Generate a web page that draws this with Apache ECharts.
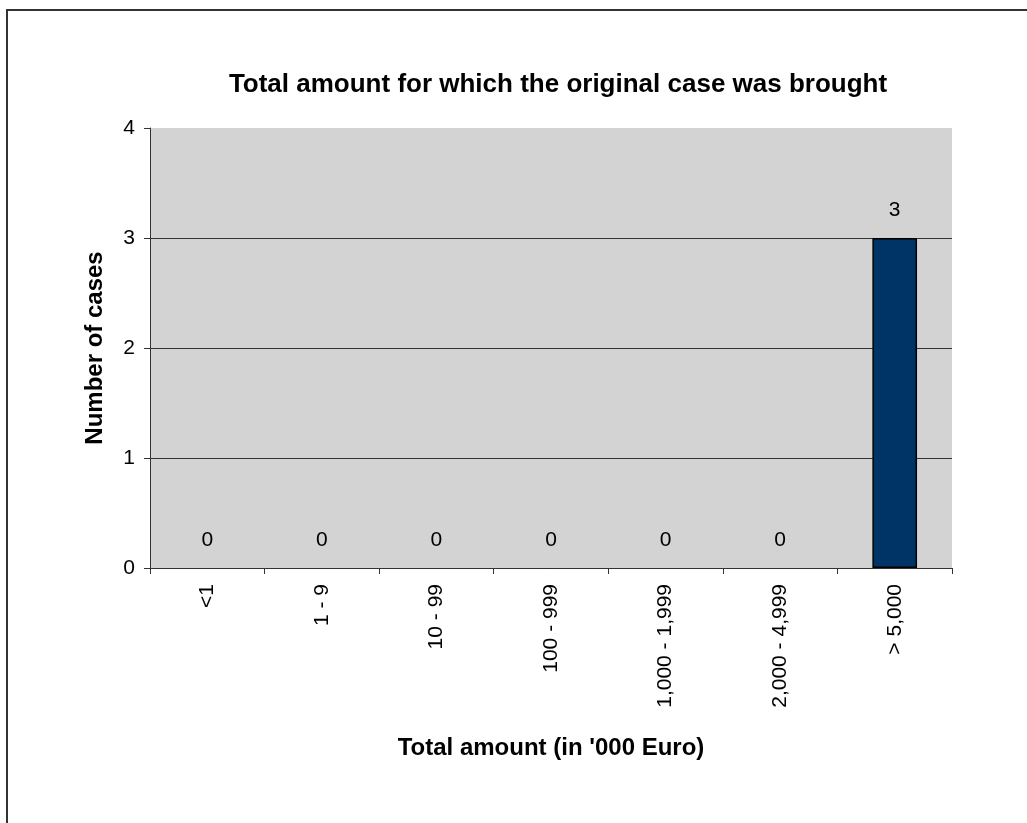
<!DOCTYPE html>
<html>
<head>
<meta charset="utf-8">
<script src="https://cdn.jsdelivr.net/npm/echarts@6/dist/echarts.min.js"></script>
<style>
  html, body { margin: 0; padding: 0; background: #fff; }
  #chart { width: 1027px; height: 823px; }
</style>
</head>
<body>
<div id="chart"></div>
<script>
// Amount bands (in '000 Euro) and number of cases in each
const categories = ['<1', '1 - 9', '10 - 99', '100 - 999', '1,000 - 1,999', '2,000 - 4,999', '> 5,000'];
const caseCounts = [0, 0, 0, 0, 0, 0, 3];
const yTicks = { min: 0, max: 4, interval: 1 };

const font = 'Liberation Sans, Arial, sans-serif';
const chart = echarts.init(document.getElementById('chart'), null, { renderer: 'canvas' });

// empty bands get no outline so nothing sits on the baseline
const barData = caseCounts.map(v => ({
  value: v,
  itemStyle: { borderWidth: v === 0 ? 0 : 1.5 }
}));

chart.setOption({
  backgroundColor: '#fff',
  animation: false,
  title: {
    text: 'Total amount for which the original case was brought',
    left: 553,
    textAlign: 'center',
    top: 67,
    textStyle: { fontFamily: font, fontSize: 26, fontWeight: 'bold', color: '#000' }
  },
  graphic: [{
    type: 'rect',
    shape: { x: 7, y: 10, width: 1100, height: 900 },
    style: { fill: 'none', stroke: '#333', lineWidth: 2 },
    silent: true
  }],
  grid: {
    left: 150, right: 75, top: 128, bottom: 255,
    show: true, backgroundColor: '#d3d3d3', borderWidth: 0
  },
  xAxis: {
    type: 'category',
    data: categories,
    name: "Total amount (in '000 Euro)",
    nameLocation: 'middle',
    nameGap: 168,
    nameTextStyle: { fontFamily: font, fontSize: 24, fontWeight: 'bold', color: '#000' },
    axisLine: { lineStyle: { color: '#333', width: 1 } },
    axisTick: { show: true, length: 6, alignWithLabel: false, lineStyle: { color: '#333' } },
    axisLabel: { rotate: 90, margin: 16, fontFamily: font, fontSize: 21, color: '#000' },
    splitLine: { show: false }
  },
  yAxis: {
    type: 'value',
    min: yTicks.min, max: yTicks.max, interval: yTicks.interval,
    name: 'Number of cases',
    nameLocation: 'middle',
    nameGap: 43,
    nameTextStyle: { fontFamily: font, fontSize: 24, fontWeight: 'bold', color: '#000' },
    axisLine: { show: true, lineStyle: { color: '#333', width: 1 } },
    axisTick: { show: true, length: 6, lineStyle: { color: '#333' } },
    axisLabel: { margin: 15, fontFamily: font, fontSize: 21, color: '#000' },
    splitLine: { show: true, showMaxLine: false, lineStyle: { color: '#333', width: 1 } }
  },
  series: [{
    type: 'bar',
    data: barData,
    barWidth: '39%',
    itemStyle: { color: '#003366', borderColor: '#000', borderWidth: 1.5 },
    label: {
      show: true, position: 'top', distance: 17,
      fontFamily: font, fontSize: 21, color: '#000'
    }
  }]
});
</script>
</body>
</html>
